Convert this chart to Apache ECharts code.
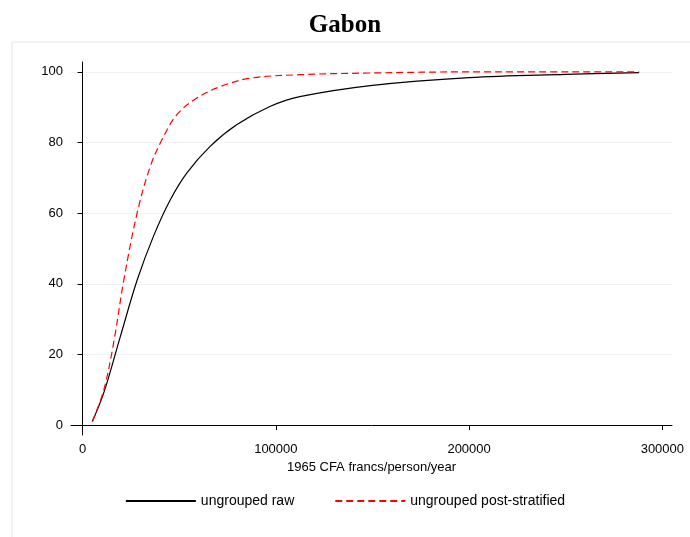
<!DOCTYPE html>
<html>
<head>
<meta charset="utf-8">
<script src="https://cdn.jsdelivr.net/npm/echarts@6/dist/echarts.min.js"></script>
<style>html,body{margin:0;padding:0;background:#fff}#c{width:690px;height:537px}</style>
</head>
<body>
<div id="c"></div>
<script>
// income (1965 CFA francs/person/year) and cumulative share
var rawIncome = [5000, 11000, 19600, 28200, 36700, 45400, 54000, 66000, 79700, 96900, 112400, 150000, 200000, 250000, 288000];
var rawShare = [1, 9.2, 25.2, 41, 53.5, 63.8, 71.4, 78.9, 85, 90.2, 93, 96.2, 98.4, 99.3, 99.8];
var postIncome = [5000, 11000, 16100, 21300, 28200, 35000, 41900, 48800, 59100, 71100, 86600, 112400, 150000, 200000, 288000];
var postShare = [1, 10, 23.4, 41, 60, 73.2, 81.7, 87.9, 92.6, 95.8, 98.2, 99.2, 99.7, 100, 100];
var xTicks = [0, 100000, 200000, 300000];
var yTicks = [0, 20, 40, 60, 80, 100];

function pairs(xs, ys) { return xs.map(function(x, i) { return [x, ys[i]]; }); }

var chart = echarts.init(document.getElementById('c'));
chart.setOption({
  animation: false,
  title: { text: 'Gabon', left: 'center', top: 8,
    textStyle: { fontFamily: 'Liberation Serif', fontWeight: 'bold', fontSize: 25, color: '#000' } },
  graphic: [{ type: 'rect', shape: { x: 12, y: 42, width: 690, height: 510 },
    style: { fill: 'none', stroke: '#e6e6e6', lineWidth: 1 }, z: -1 }],
  grid: { left: 71, right: 18, top: 62, bottom: 102 },
  legend: {
    bottom: 24, left: 'center', itemWidth: 70, itemHeight: 12, itemGap: 40,
    itemStyle: { opacity: 0 },
    textStyle: { fontFamily: 'Liberation Sans', fontSize: 14, color: '#000' },
    data: ['ungrouped raw', 'ungrouped post-stratified']
  },
  xAxis: {
    type: 'value', min: -6000, max: 305000,
    name: '1965 CFA francs/person/year', nameLocation: 'middle', nameGap: 24,
    nameTextStyle: { fontFamily: 'Liberation Sans', fontSize: 13, color: '#000' },
    axisLine: { show: true, lineStyle: { color: '#000' } },
    axisTick: { show: true, length: 5, lineStyle: { color: '#000' }, customValues: xTicks },
    axisLabel: { customValues: xTicks, formatter: function(v) { return String(v); },
      fontFamily: 'Liberation Sans', fontSize: 13, color: '#000', margin: 8 },
    splitLine: { show: false }
  },
  yAxis: {
    type: 'value', min: -2.8, max: 102.8,
    axisLine: { show: true, lineStyle: { color: '#000' } },
    axisTick: { show: true, length: 5, lineStyle: { color: '#000' }, customValues: yTicks },
    axisLabel: { customValues: yTicks, fontFamily: 'Liberation Sans', fontSize: 13, color: '#000', margin: 8 },
    splitLine: { show: true, customValues: yTicks, lineStyle: { color: '#eef2f2' } }
  },
  series: [
    { name: 'ungrouped raw', type: 'line', smooth: 0.35, symbol: 'none', data: pairs(rawIncome, rawShare),
      itemStyle: { color: '#000' }, lineStyle: { color: '#000', width: 1.2 } },
    { name: 'ungrouped post-stratified', type: 'line', smooth: 0.35, symbol: 'none', data: pairs(postIncome, postShare),
      itemStyle: { color: '#ff0000' }, lineStyle: { color: '#ff0000', width: 1.2, type: [7, 4] } }
  ]
});
</script>
</body>
</html>
